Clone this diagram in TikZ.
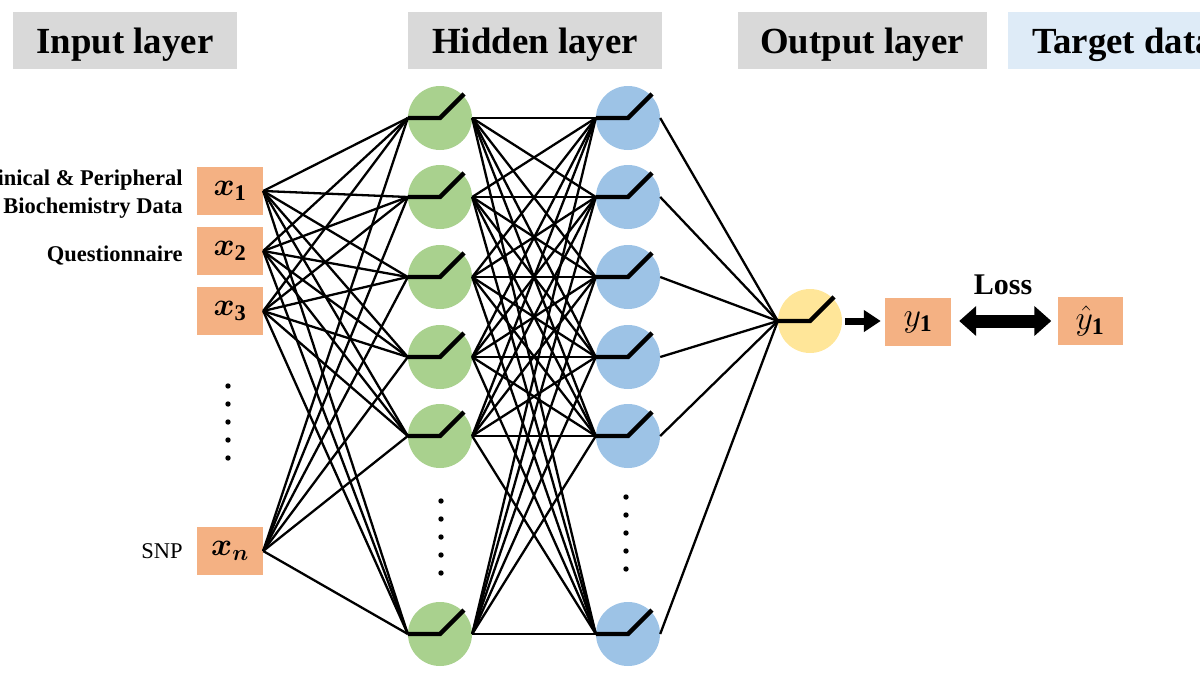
\documentclass[tikz,border=0pt]{standalone}
\usepackage{fix-cm}
\usepackage{amsmath}
\usepackage{bm}
\usepackage{fontspec}
\setmainfont{Liberation Serif}
\usetikzlibrary{positioning,arrows.meta}

\definecolor{nodegreen}{HTML}{A9D18E}
\definecolor{nodeblue}{HTML}{9DC3E6}
\definecolor{nodeyellow}{HTML}{FFE699}
\definecolor{boxorange}{HTML}{F4B183}
\definecolor{headgray}{HTML}{D9D9D9}
\definecolor{headblue}{HTML}{DEEBF7}

\tikzset{
	neuron/.style={circle, minimum size=64pt, inner sep=0pt},
	databox/.style={rectangle, fill=boxorange, minimum width=66pt, minimum height=48pt, inner sep=0pt, font=\fontsize{32}{32}\selectfont},
	header/.style={rectangle, fill=headgray, minimum height=57pt, inner sep=0pt, text height=27pt, text depth=0pt, font=\fontsize{36.8}{40}\selectfont\bfseries},
	sidelabel/.style={align=right, inner sep=0pt, font=\fontsize{22.5}{28}\selectfont\bfseries},
	wire/.style={line width=2.3pt},
	relu/.style={line width=4.4pt},
	dot/.style={fill=black}
}

\begin{document}
\begin{tikzpicture}[x=1pt, y=-1pt]
	\useasboundingbox (0,0) rectangle (1200,675);
	
	\node[header, minimum width=224pt] (hin) at (125,40) {Input layer};
	\node[header, minimum width=254pt] (hhid) at (535,40) {Hidden layer};
	\node[header, minimum width=249pt] (hout) at (862,40) {Output layer};
	\node[header, fill=headblue, minimum width=230pt] (htgt) at (1123,40) {Target data};
	
	\node[databox] (x1) at (230,191) {$\bm{x}_{\mathbf{1}}$};
	\node[databox] (x2) at (230,251) {$\bm{x}_{\mathbf{2}}$};
	\node[databox] (x3) at (230,311) {$\bm{x}_{\mathbf{3}}$};
	\node[databox] (xn) at (230,551) {$\bm{x}_{\bm{n}}$};
	
	\node[sidelabel, anchor=east, left=14pt of x1, yshift=-3pt] (l1) {Clinical \& Peripheral\\Biochemistry Data};
	\node[sidelabel, anchor=east, left=14pt of x2, yshift=-5pt] (l2) {Questionnaire};
	\node[sidelabel, anchor=east, left=14pt of xn, font=\fontsize{22.5}{28}\selectfont] (l3) {SNP};
	
	\foreach \j/\y in {1/118, 2/197, 3/277, 4/357, 5/436, 6/634} {
		\node[neuron, fill=nodegreen] (g\j) at (440,\y) {};
		\node[neuron, fill=nodeblue] (b\j) at (628,\y) {};
	}
	\node[neuron, fill=nodeyellow] (o) at (810,321) {};
	
	\foreach \i in {x1,x2,x3,xn}
		\foreach \j in {1,...,6}
			\draw[wire] (\i.east) -- (g\j.west);
	\foreach \i in {1,...,6}
		\foreach \j in {1,...,6}
			\draw[wire] (g\i.east) -- (b\j.west);
	\foreach \i in {1,...,6}
		\draw[wire] (b\i.east) -- (o.west);
	
	\foreach \n in {g1,g2,g3,g4,g5,g6,b1,b2,b3,b4,b5,b6,o}
		\draw[relu] (\n.west) -- (\n.center) -- ++(24,-24);
	
	\foreach \k in {0,...,4} {
		\fill[dot] (228,386+18*\k) circle (2.7pt);
		\fill[dot] (441,501+18*\k) circle (2.7pt);
		\fill[dot] (626,497+18*\k) circle (2.7pt);
	}
	
	\node[databox, font=\fontsize{34}{34}\selectfont] (y1) at (918,322) {$y_{\mathbf{1}}$};
	\node[databox, font=\fontsize{34}{34}\selectfont, minimum width=65pt] (yh) at (1090,321) {$\hat{y}_{\mathbf{1}}$};
	
	\draw[line width=7pt, -{Triangle[length=17pt, width=21pt]}] ([xshift=3pt]o.east) -- ([xshift=-4pt]y1.west |- o.east);
	\draw[line width=13pt, {Triangle[length=17pt, width=29pt]}-{Triangle[length=17pt, width=29pt]}] ([xshift=8pt]y1.east |- yh.west) -- ([xshift=-6pt]yh.west);
	\node[font=\fontsize{30}{32}\selectfont\bfseries] (loss) at (1003,285) {Loss};
\end{tikzpicture}
\end{document}
